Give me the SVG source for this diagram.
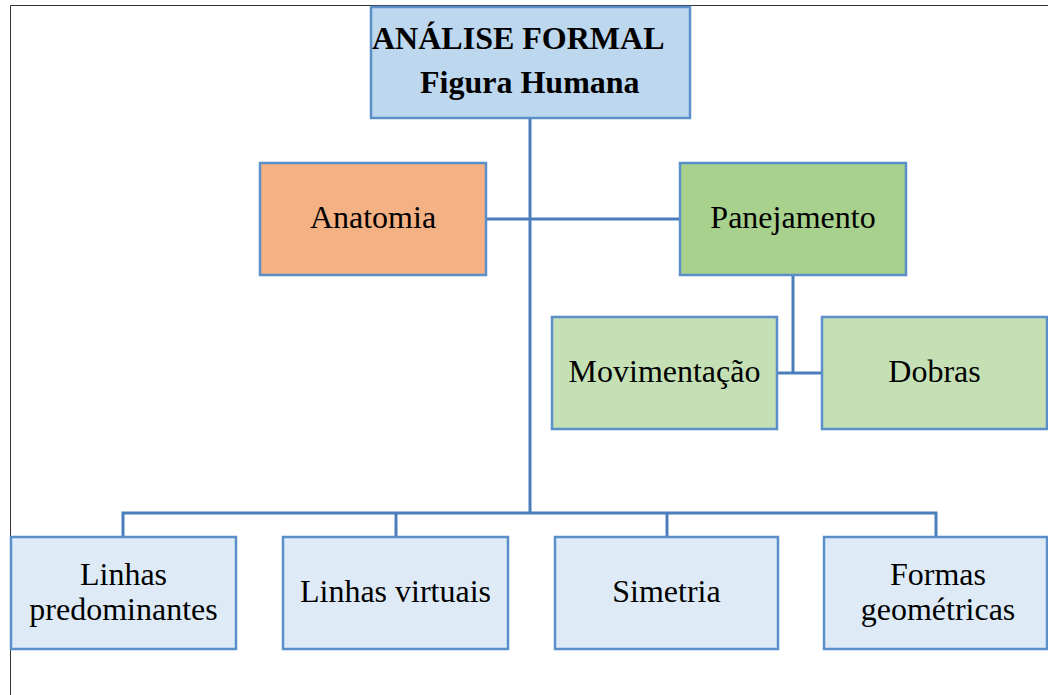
<svg xmlns="http://www.w3.org/2000/svg" width="1048" height="695" viewBox="0 0 1048 695">
  <style>
    .box { stroke: #5b8fc9; stroke-width: 2.5; }
    .root { fill: #bdd7ee; }
    .anat { fill: #f4b183; }
    .pane { fill: #a9d18e; }
    .sub { fill: #c5e0b4; }
    .leaf { fill: #deebf7; }
    .lbl { font-family: "Liberation Serif", "Times New Roman", serif; font-size: 32px; fill: #000; text-anchor: middle; }
    .ttl { font-family: "Liberation Serif", "Times New Roman", serif; font-size: 32px; font-weight: bold; fill: #000; }
    .conn { stroke: #4a7ebb; stroke-width: 3; fill: none; }
    .frame { stroke: #333; stroke-width: 1; fill: none; }
  </style>
  <rect width="1048" height="695" fill="#fff"/>
  <!-- page frame -->
  <path class="frame" d="M10.5 695 V5.5 H1048"/>

  <g id="connectors">
    <path class="conn" d="M530 118 V513"/>
    <path class="conn" d="M486 219 H680"/>
    <path class="conn" d="M793 275 V373"/>
    <path class="conn" d="M777 373 H822"/>
    <path class="conn" d="M123 537 V513 H936 V537"/>
    <path class="conn" d="M396 513 V537"/>
    <path class="conn" d="M667 513 V537"/>
  </g>

  <g id="root">
    <rect class="box root" x="371" y="7" width="319" height="111"/>
    <text class="ttl" x="372" y="49">ANÁLISE FORMAL</text>
    <text class="ttl" x="420" y="93">Figura Humana</text>
  </g>

  <g id="anatomia">
    <rect class="box anat" x="260" y="163" width="226" height="112"/>
    <text class="lbl" x="373" y="228">Anatomia</text>
  </g>

  <g id="panejamento">
    <rect class="box pane" x="680" y="163" width="226" height="112"/>
    <text class="lbl" x="793" y="228">Panejamento</text>
  </g>

  <g id="movimentacao">
    <rect class="box sub" x="552" y="317" width="225" height="112"/>
    <text class="lbl" x="664.5" y="382">Movimentação</text>
  </g>

  <g id="dobras">
    <rect class="box sub" x="822" y="317" width="225" height="112"/>
    <text class="lbl" x="934.5" y="382">Dobras</text>
  </g>

  <g id="linhas-predominantes">
    <rect class="box leaf" x="11" y="537" width="225" height="112"/>
    <text class="lbl" x="123.5" y="585">Linhas</text>
    <text class="lbl" x="123.5" y="620">predominantes</text>
  </g>

  <g id="linhas-virtuais">
    <rect class="box leaf" x="283" y="537" width="225" height="112"/>
    <text class="lbl" x="395.5" y="602">Linhas virtuais</text>
  </g>

  <g id="simetria">
    <rect class="box leaf" x="555" y="537" width="223" height="112"/>
    <text class="lbl" x="666.5" y="602">Simetria</text>
  </g>

  <g id="formas-geometricas">
    <rect class="box leaf" x="824" y="537" width="223" height="112"/>
    <text class="lbl" x="938" y="585">Formas</text>
    <text class="lbl" x="938" y="620">geométricas</text>
  </g>
</svg>
